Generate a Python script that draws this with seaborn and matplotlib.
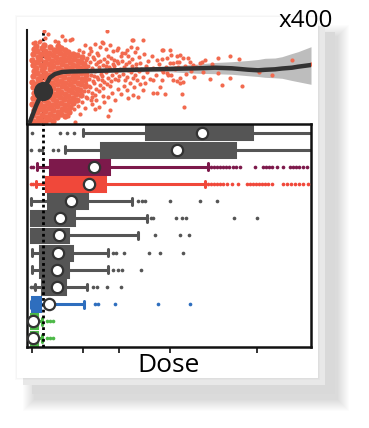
import matplotlib
matplotlib.use("Agg")
import matplotlib.pyplot as plt
from matplotlib.patches import Rectangle
import seaborn as sns

# ---------------- data ----------------
# top panel: response cloud (dose, response) -- dense core
core_pts = [
 (33,3),(33,9),(34,14),(32,20),(33,26),(34,31),(33,37),(32,42),(33,48),(34,53),(33,59),(32,64),(33,70),(34,75),
 (37,1),(38,6),(37,12),(36,17),(37,23),(38,28),(37,34),(36,40),(38,45),(37,51),(36,56),(37,62),(38,67),(37,73),(36,78),
 (41,4),(42,9),(41,15),(40,20),(41,26),(42,31),(41,37),(40,43),(41,48),(42,54),(41,59),(40,65),(41,70),(42,76),
 (45,2),(46,7),(45,13),(44,18),(45,24),(46,29),(45,35),(44,40),(46,46),(45,51),(44,57),(45,62),(46,68),(45,73),(44,79),
 (49,5),(50,10),(49,16),(48,21),(49,27),(50,33),(49,38),(48,44),(49,49),(50,55),(49,60),(48,66),(49,71),(50,77),
 (53,3),(54,8),(53,14),(52,19),(53,25),(54,30),(53,36),(52,41),(53,47),(54,52),(53,58),(52,63),(53,69),(54,74),
 (57,7),(58,12),(57,18),(56,23),(57,29),(58,34),(57,40),(56,45),(57,51),(58,56),(57,62),(56,67),(57,73),(58,78),
 (61,10),(62,15),(61,21),(60,27),(61,32),(62,38),(61,43),(60,49),(61,54),(62,60),(61,65),(60,71),(61,76),
 (65,8),(66,14),(65,19),(64,25),(65,30),(66,36),(65,41),(64,47),(65,53),(66,58),(65,64),(64,69),(65,74),
 (69,12),(70,17),(69,23),(68,28),(69,34),(70,40),(69,45),(68,51),(69,56),(70,62),(69,67),(68,72),
 (73,21),(73,26),(72,32),(73,37),(74,43),(73,48),(72,54),(73,59),(74,65),(73,70),
 (77,24),(76,30),(77,35),(78,41),(77,47),(76,52),(77,58),(78,63),(77,69),
 (81,29),(80,34),(81,40),(82,45),(81,51),(80,56),(81,62),(82,67),
 (85,38),(85,44),(86,49),(85,55),(84,60),
]
# medium / sparse points around the core
outer_pts = [
 (44,93),(107,93),(35,82),(40,83),(45,86),(55,83),(65,84),(72,85),(85,79),(102,82),(132,84),(143,84),
 (162,74),(117,74),(125,71),(33,81),(39,82),(58,82),(70,84),(103,81),(133,84),(137,76),(48,90),(62,88),
 (68,8),(108,8),(75,2),(55,19),(68,19),(85,16),(92,27),(103,28),(128,26),(138,27),(157,31),(160,37),
 (145,41),(110,14),(133,29),(143,34),(153,31),(180,41),(173,44),(162,44),(153,44),(163,52),(80,10),(95,15),
 (167,66),(171,69),(177,68),(180,69),(183,66),(188,66),(173,61),(177,62),(178,57),(175,56),(200,61),(193,59),
 (202,62),(218,66),(230,68),(239,65),(292,64),(311,60),(259,52),(168,49),(171,49),(167,51),(180,46),(183,42),
 (177,43),(218,51),(230,46),(222,39),(242,38),(272,49),(165,30),(182,30),(184,17),(191,53),(163,74),(162,65),
 (170,74),(92,20),(96,24),(99,17),(104,22),(108,27),(112,31),(115,24),(118,35),(121,30),(124,38),(127,34),
 (130,41),(134,37),(137,44),(140,40),(143,47),(147,52),(150,45),(153,56),(156,49),(159,60),(162,54),(148,63),
 (144,70),(139,67),(135,72),(131,77),(127,74),(122,71),(118,76),(113,73),(110,79),(106,75),(100,77),(95,80),
 (90,76),(152,68),(157,64),(146,58),(141,55),(136,60),(132,65),(128,68),(166,57),(170,61),(175,55),(179,62),
 (185,58),(190,62),(196,57),(205,64),(212,60),(186,50),(194,47),(203,52),(210,45),
 (74,15),(78,18),(82,22),(86,27),(79,74),(83,72),(87,66),(84,33),
 (87,26),(88,33),(86,40),(89,45),(87,52),(88,58),(86,64),(89,70),(91,24),(92,31),(90,37),(93,43),(91,49),
 (92,56),(90,62),(93,67),(91,73),(95,29),(96,35),(94,41),(97,47),(95,53),(96,60),(94,65),(97,71),(99,33),
 (100,39),(98,45),(101,50),(99,57),(100,63),(98,69),(103,36),(104,42),(102,48),(105,54),(103,59),(104,65),
 (107,40),(108,46),(106,52),(109,57),(107,62),(108,68),(111,43),(112,49),(110,55),(113,60),(111,66),
 (115,45),(116,52),(114,58),(117,63),(119,48),(120,55),(118,61),(123,50),(124,57),(122,63),(127,47),
 (128,54),(126,60),(131,52),(132,58),(135,49),(136,56),(139,53),(140,61),
 (89,38),(94,48),(98,62),(102,44),(106,58),(110,38),(114,64),(118,44),(121,68),(125,44),(129,62),(133,46),
]
cloud_dose = [p[0] for p in core_pts]
cloud_resp = [p[1] for p in core_pts]
outer_dose = [p[0] for p in outer_pts]
outer_resp = [p[1] for p in outer_pts]

# smoothed fit and its confidence band
fit_dose = [30, 36, 42.7, 50, 55, 62, 70, 92, 125, 165, 198, 215, 232, 248, 258, 265, 275, 282, 292, 298, 311]
fit_resp = [2.3, 18, 33, 46.5, 50, 52, 52.5, 53, 54, 55, 55.7, 56.3, 55.7, 54.3, 53.7, 54.2, 54.7, 55.5, 56.3, 57.3, 59]
fit_hi = [4, 20, 35, 48.5, 52, 54, 54.5, 55, 56, 57.5, 60, 61.5, 62.3, 63.5, 64.5, 65.7, 66, 67.3, 70.5, 72.3, 77.3]
fit_lo = [0.5, 16, 31, 44.5, 48, 50, 50.5, 51, 52, 52.5, 50.7, 50.3, 49.7, 48.3, 47.5, 46.7, 46.2, 45.7, 43.5, 42.3, 39.7]
threshold_dose = 43
highlight_dose, highlight_resp = [42.7], [32.5]

# bottom panel: per-group boxplot summaries (13 groups, top to bottom)
groups = list(range(13))
whislo = [82.7, 64.5, 36.7, 36.0, 31.0, 30.8, 30.8, 31.7, 31.7, 35.0, 31.0, 30.0, 30.0]
q1 = [145.7, 100.7, 50.0, 46.0, 47.7, 31.0, 31.0, 40.0, 40.0, 41.7, 31.7, 30.5, 30.5]
median = [200.0, 175.0, 90.0, 87.0, 70.0, 58.0, 57.0, 57.0, 55.0, 56.0, 35.0, 33.0, 33.0]
q3 = [251.7, 235.0, 109.3, 105.0, 87.3, 74.0, 68.3, 72.3, 67.7, 65.0, 40.0, 37.0, 37.0]
whishi = [335.0, 335.0, 208.3, 205.0, 131.7, 146.7, 137.7, 107.7, 108.3, 86.7, 84.3, 41.7, 41.7]
means = [202.0, 177.3, 93.7, 89.3, 71.0, 60.0, 59.5, 58.5, 57.0, 57.3, 49.0, 33.3, 33.3]
fliers = [
 [31.7, 60, 66.7, 74],
 [31, 39, 41.7, 53, 58.3],
 [30.5, 32.5, 211, 214, 217, 220, 223, 226, 229, 233, 236, 240, 255, 263, 266, 269, 272, 277, 283, 290, 293, 296, 299, 303, 307],
 [30.5, 32.5, 208, 211, 214, 217, 220, 223, 227, 232, 238, 247, 250, 253, 256, 259, 262, 265, 268, 272, 283, 287, 291, 295, 299, 303, 308],
 [138.5, 142, 145.5, 170, 200, 216.7],
 [151, 153.3, 176, 181.7, 185.7, 234.3, 257.3],
 [155, 180, 189.3],
 [113, 116, 124, 149, 160, 183.3],
 [113, 118, 122, 141],
 [30.5, 32.5, 93.3, 96.7, 106.7, 121],
 [95, 98.3, 115, 157.7, 190],
 [47, 50, 53],
 [47, 50, 53],
]
GRAY, PURPLE, RED, BLUE, GREEN = "#555555", "#7D194B", "#F0483A", "#2E6EBE", "#4DB948"
group_colors = [GRAY, GRAY, PURPLE, RED, GRAY, GRAY, GRAY, GRAY, GRAY, GRAY, BLUE, GREEN, GREEN]
xticks = [32, 83, 119, 170, 257]

# ---------------- figure ----------------
sns.set_theme(style="white")
plt.rcParams['font.family'] = ['Open Sans', 'DejaVu Sans']

W, H = 369, 428
fig = plt.figure(figsize=(W / 100, H / 100), dpi=100)
fig.patch.set_facecolor("white")


def rect(x0, y0, x1, y1, color, z, alpha=1.0):
    fig.add_artist(Rectangle((x0 / W, 1 - y1 / H), (x1 - x0) / W, (y1 - y0) / H,
                             transform=fig.transFigure, facecolor=color,
                             edgecolor="none", zorder=z, alpha=alpha))


# soft drop shadow + stacked cards
for i in range(12):
    rect(34 - i, 36 - i, 338 + i, 400 + i, "black", -30, 0.010)
rect(32, 32, 335, 394, "#d9d9d9", -20)
rect(23, 26, 325, 385, "#e8e8e8", -19)
for i in range(3):
    rect(17 - i, 17 - i, 318 + i, 378 + i, "black", -18, 0.018)
rect(17, 17, 318, 378, "white", -17)

# ---------------- top panel ----------------
axt = fig.add_axes([27 / W, 1 - 124 / H, (311 - 27) / W, (124 - 30) / H])
axt.set_facecolor("none")
axt.axvline(threshold_dose, color="black", lw=2, ls=(0, (1, 1)), zorder=1)
axt.fill_between(fit_dose, fit_lo, fit_hi, color="#bdbdbd", lw=0, zorder=1.5)
sns.scatterplot(x=cloud_dose, y=cloud_resp, s=21, color="#F26A4F", linewidth=0, ax=axt, zorder=2)
sns.scatterplot(x=outer_dose, y=outer_resp, s=9, color="#F26A4F", linewidth=0, ax=axt, zorder=2)
sns.lineplot(x=fit_dose, y=fit_resp, color="#333333", lw=3.2, sort=False, estimator=None, ax=axt, zorder=3)
sns.scatterplot(x=highlight_dose, y=highlight_resp, s=190, color="#333333", linewidth=0, ax=axt, zorder=4)
axt.set_xlim(27, 311)
axt.set_ylim(0, 94)
for s in ["top", "right", "bottom"]:
    axt.spines[s].set_visible(False)
axt.spines["left"].set_linewidth(1.5)
axt.spines["left"].set_color("#1a1a1a")
axt.set_xticks([]); axt.set_yticks([])
axt.set_xlabel(""); axt.set_ylabel("")

# ---------------- bottom panel ----------------
ax = fig.add_axes([27 / W, 1 - 347 / H, (311 - 27) / W, (347 - 124) / H])
ax.set_facecolor("none")
for g in groups:
    vals = [whislo[g], q1[g], median[g], q3[g], whishi[g]]
    c = group_colors[g]
    sns.boxplot(x=vals, y=[g] * 5, orient="h", order=groups, color=c, linecolor=c,
                saturation=1, width=0.8, linewidth=2.2, whis=(0, 100),
                showfliers=False, ax=ax)
    f = fliers[g]
    sns.scatterplot(x=f, y=[g] * len(f), s=7, color=c, linewidth=0, ax=ax, zorder=3)
ax.axvline(threshold_dose, color="black", lw=2, ls=(0, (1, 1.1)), zorder=5)
sns.scatterplot(x=means, y=groups, s=66, color="white", edgecolor="#333333",
                linewidth=1.6, ax=ax, zorder=6)
ax.set_xlim(27, 311)
ax.set_ylim(12.5, -0.5)
ax.set_yticks([])
ax.set_xticks(xticks)
ax.tick_params(axis="x", bottom=True, length=4, width=1.3, color="#222222", labelbottom=False)
ax.set_xlabel(""); ax.set_ylabel("")
for s in ax.spines.values():
    s.set_visible(True)
    s.set_linewidth(1.8)
    s.set_color("#111111")

fig.text(169 / W, 1 - 372 / H, "Dose", ha="center", va="baseline", fontsize=19, color="black")
fig.text(333 / W, 1 - 27 / H, "x400", ha="right", va="baseline", fontsize=17.5, color="black")

fig.savefig("out.png", dpi=100)
